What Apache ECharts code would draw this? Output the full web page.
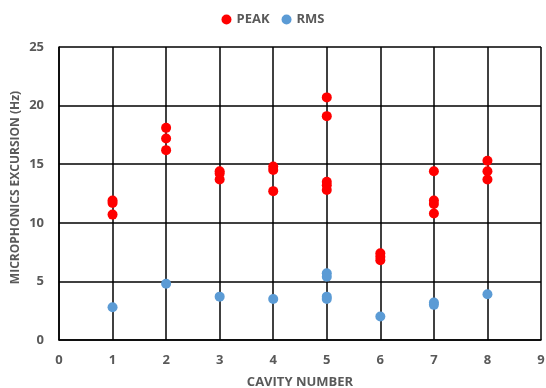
<!DOCTYPE html>
<html><head><meta charset="utf-8">
<script src="https://cdn.jsdelivr.net/npm/echarts@6/dist/echarts.min.js"></script>
<style>html,body{margin:0;padding:0;background:#fff}#c{width:546px;height:388px}</style>
</head><body><div id="c"></div>
<script>
const peakX = [1,1,1, 2,2,2, 3,3,3, 4,4,4, 5,5,5,5,5, 6,6,6, 7,7,7,7, 8,8,8];
const peakY = [11.9,11.7,10.7, 18.1,17.2,16.2, 14.4,14.2,13.7, 14.8,14.5,12.7, 20.7,19.1,13.5,13.2,12.8, 7.4,7.1,6.8, 14.4,11.9,11.6,10.8, 15.3,14.4,13.7];
const rmsX = [1, 2, 3, 4, 5,5,5,5, 6, 7,7, 8];
const rmsY = [2.8, 4.8, 3.7, 3.5, 5.7,5.4,3.7,3.5, 2.0, 3.2,3.0, 3.9];
const xTicks = [0,1,2,3,4,5,6,7,8,9];
const yTicks = [0,5,10,15,20,25];

const font = 'Open Sans';
const grey = '#595959';
const chart = echarts.init(document.getElementById('c'));
chart.setOption({
  animation:false,
  legend:{top:8,left:'center',itemWidth:10,itemHeight:10,itemGap:12,
    textStyle:{fontFamily:font,fontWeight:'bold',fontSize:13,color:grey},
    data:[{name:'PEAK',icon:'circle'},{name:'RMS',icon:'circle'}]},
  grid:{left:59,right:5,top:47,bottom:48,containLabel:false,outerBoundsMode:'none'},
  xAxis:{type:'value',min:xTicks[0],max:xTicks[xTicks.length-1],interval:1,
    name:'CAVITY NUMBER',nameLocation:'middle',nameGap:36,nameMoveOverlap:false,
    nameTextStyle:{fontFamily:font,fontWeight:'bold',fontSize:13,color:grey},
    axisLine:{show:true,lineStyle:{color:'#000',width:1.5}},axisTick:{show:false},
    axisLabel:{fontFamily:font,fontWeight:'bold',fontSize:13,color:grey,margin:14},
    splitLine:{show:true,lineStyle:{color:'#000',width:1.5}}},
  yAxis:{type:'value',min:yTicks[0],max:yTicks[yTicks.length-1],interval:5,
    name:'MICROPHONICS EXCURSION (Hz)',nameLocation:'middle',nameGap:37,nameMoveOverlap:false,
    nameTextStyle:{fontFamily:font,fontWeight:'bold',fontSize:12,color:grey,padding:[0,0,0,12]},
    axisLine:{show:true,lineStyle:{color:'#000',width:1.5}},axisTick:{show:false},
    axisLabel:{fontFamily:font,fontWeight:'bold',fontSize:13,color:grey,margin:15},
    splitLine:{show:true,lineStyle:{color:'#000',width:1.5}}},
  series:[
    {name:'PEAK',type:'scatter',symbolSize:10,itemStyle:{color:'#FF0000',opacity:1},
     data:peakX.map((x,i)=>[x,peakY[i]])},
    {name:'RMS',type:'scatter',symbolSize:10,itemStyle:{color:'#5B9BD5',opacity:1},
     data:rmsX.map((x,i)=>[x,rmsY[i]])}
  ]
});
</script></body></html>
